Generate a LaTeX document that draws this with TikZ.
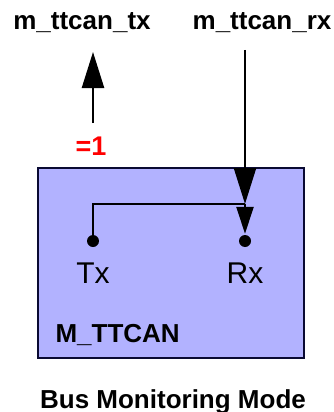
\documentclass[tikz,border=0pt]{standalone}
\usepackage{fontspec}
\setmainfont{Liberation Sans}
\usetikzlibrary{arrows.meta, positioning}

\definecolor{boxblue}{RGB}{178,178,255}
\definecolor{boxline}{RGB}{10,10,50}

\begin{document}
\begin{tikzpicture}[x=1pt, y=-1pt, line width=2.4pt,
    sig/.style={font=\fontsize{26}{30}\selectfont\bfseries, anchor=base},
    pin/.style={circle, fill=black, inner sep=0pt, minimum size=12pt},
    pinlabel/.style={font=\fontsize{30}{34}\selectfont, anchor=base},
    bigtip/.style={-{Triangle[length=36pt, width=22pt]}},
    smalltip/.style={-{Triangle[length=27pt, width=17pt]}}]

% --- DEFINITIONS ---
\def\txX{93}   % x of the Tx pin
\def\rxX{245}  % x of the Rx pin
\def\pinY{241} % y of both pins

\useasboundingbox (0,0) rectangle (334,412);

% --- 1. M_TTCAN BOX ---
\node[draw=boxline, fill=boxblue, line width=2.4pt, rectangle, anchor=north west,
    minimum width=266pt, minimum height=190pt, inner sep=0pt] (ttcan) at (37,167) {};
\node[sig, anchor=base west] (ttcanname) at (51,342) {M\_TTCAN};

% --- 2. PINS ---
\node[pin] (txpin) at (\txX,\pinY) {};
\node[pin] (rxpin) at (\rxX,\pinY) {};
\node[pinlabel] (txlabel) at (\txX,283) {Tx};
\node[pinlabel] (rxlabel) at (\rxX,283) {Rx};

% --- 3. SIGNALS ---
\node[sig] (txsig) at (82,30) {m\_ttcan\_tx};
\node[sig] (rxsig) at (262,30) {m\_ttcan\_rx};
\node[sig, red, font=\fontsize{27}{30}\selectfont\bfseries] (txval) at (91,155) {=1};

\coordinate (txbot) at (\txX,123);
\coordinate (txtip) at (\txX,52);
\coordinate (rxtop) at (\rxX,50);
\coordinate (junc) at (\rxX,204);

% Tx output held at 1
\draw[bigtip] (txbot) -- (txtip);

% Rx input, looped back internally to Tx
\draw[bigtip] (rxtop) -- (junc);
\draw (txpin.center) |- (junc);
\draw[smalltip] (junc) -- (rxpin);

% --- 4. CAPTION ---
\node[sig] (caption) at (173,408) {Bus Monitoring Mode};

\end{tikzpicture}
\end{document}
